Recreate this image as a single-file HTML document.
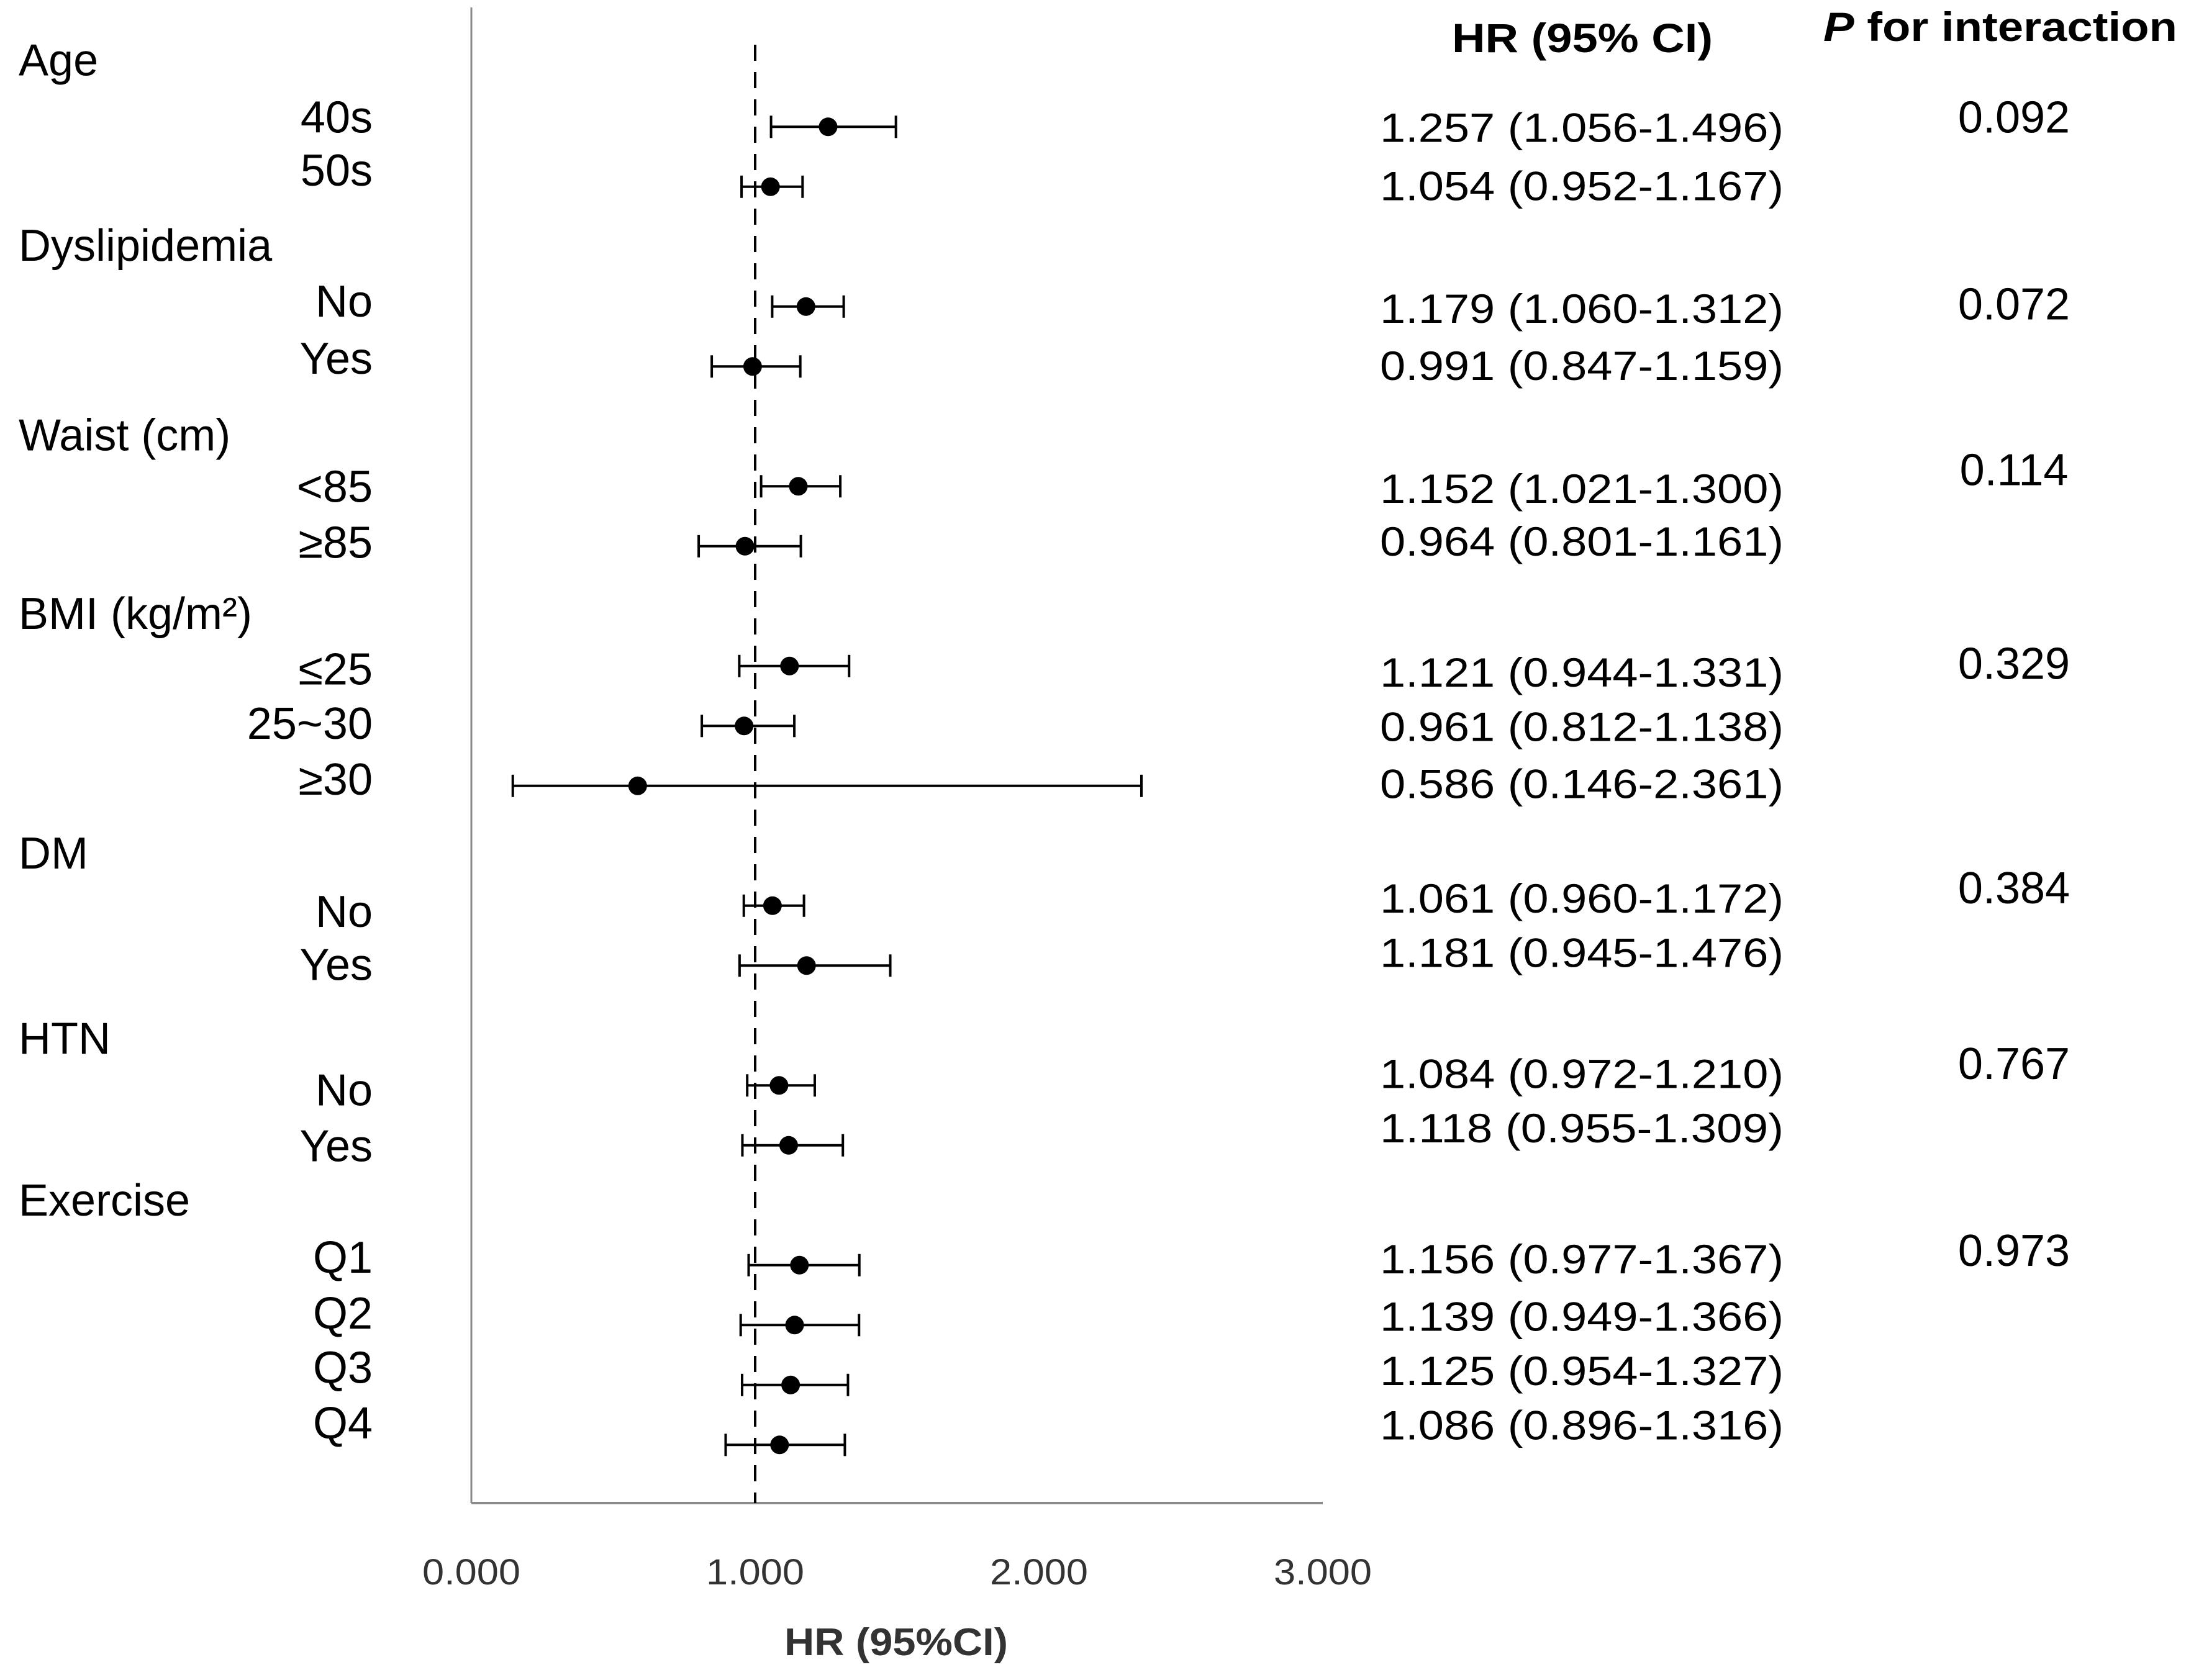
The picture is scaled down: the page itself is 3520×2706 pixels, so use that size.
<!DOCTYPE html>
<html><head><meta charset="utf-8"><style>
html,body{margin:0;padding:0;background:#fff;}
svg{display:block;font-family:"Liberation Sans",sans-serif;}
</style></head><body>
<svg id="chart" width="3520" height="2706" viewBox="0 0 3520 2706" xmlns="http://www.w3.org/2000/svg">
<g id="axes"></g>
<g id="rows"></g>
<text x="2548" y="84" font-size="66" font-weight="bold" text-anchor="middle" textLength="420" lengthAdjust="spacingAndGlyphs">HR (95% CI)</text>
<text x="2936" y="66" font-size="66" font-weight="bold" textLength="570" lengthAdjust="spacingAndGlyphs"><tspan font-style="italic">P</tspan> for interaction</text>
</svg>
<script>
const groups = ["Age","Dyslipidemia","Waist (cm)","BMI (kg/m²)","DM","HTN","Exercise"];
const groupSlots = [0,3,6,9,13,16,19];
const labels = ["40s","50s","No","Yes","<85","≥85","≤25","25~30","≥30","No","Yes","No","Yes","Q1","Q2","Q3","Q4"];
const slots = [1,2,4,5,7,8,10,11,12,14,15,17,18,20,21,22,23];
const hr = [1.257,1.054,1.179,0.991,1.152,0.964,1.121,0.961,0.586,1.061,1.181,1.084,1.118,1.156,1.139,1.125,1.086];
const lo = [1.056,0.952,1.060,0.847,1.021,0.801,0.944,0.812,0.146,0.960,0.945,0.972,0.955,0.977,0.949,0.954,0.896];
const hi = [1.496,1.167,1.312,1.159,1.300,1.161,1.331,1.138,2.361,1.172,1.476,1.210,1.309,1.367,1.366,1.327,1.316];
const pSlots = [1,4,7,10,14,17,20];
const pValues = ["0.092","0.072","0.114","0.329","0.384","0.767","0.973"];
const ticks = [0,1,2,3];
const tickLabels = ["0.000","1.000","2.000","3.000"];

// text layout (centre lines, in 1/2.245 scaled units)
const groupTextY = [43,176,312,440,612,745,861];
const labelTextY = [84,122,216,257,349,389,480,519,559,654,692,782,822,902,942,981,1021];
const hrTextY = [91,133,221,262,350,388,482,521,562,644,683,770,809,903,944,983,1022];
const pTextY = [84,218,337,476,637,763,897];

const NS="http://www.w3.org/2000/svg";
const K=2.245;
const X0=759, XS=457;
function xs(v){return X0+v*XS;}
function ys(s){return 107.8+s*96.5;}
function mk(tag,attrs,parent,text){const e=document.createElementNS(NS,tag);for(const k in attrs)e.setAttribute(k,attrs[k]);if(text!==undefined)e.textContent=text;parent.appendChild(e);return e;}
const ax=document.getElementById('axes'), rows=document.getElementById('rows');
const AXY=2421;
let e;
e=mk('line',{x1:xs(0),y1:12,x2:xs(0),y2:AXY,stroke:'#8a8a8a','stroke-width':3},ax);


e=mk('line',{x1:xs(0),y1:AXY,x2:xs(3),y2:AXY,stroke:'#8a8a8a','stroke-width':4},ax);


e=mk('line',{x1:xs(1),y1:72,x2:xs(1),y2:AXY,stroke:'#000','stroke-width':4,'stroke-dasharray':'26,18'},ax);


ticks.forEach((t,i)=>{
  e=mk('text',{x:xs(t),y:2552,'font-size':58,'text-anchor':'middle',fill:'#333',textLength:158,lengthAdjust:'spacingAndGlyphs'},ax,tickLabels[i]);
  
  
});
e=mk('text',{x:1443,y:2666,'font-size':62,'font-weight':'bold','text-anchor':'middle',fill:'#333',textLength:360,lengthAdjust:'spacingAndGlyphs'},ax,'HR (95%CI)');



groups.forEach((g,i)=>{
  e=mk('text',{x:30,y:groupTextY[i]*K+25,'font-size':72},rows,g);
  
  
});
const CAP=18;
labels.forEach((l,i)=>{
  const y=ys(slots[i]);
  e=mk('text',{x:600,y:labelTextY[i]*K+25,'font-size':72,'text-anchor':'end'},rows,l);
  
  
  const g=mk('g',{},rows);
  
  
  e=mk('line',{x1:xs(lo[i]),y1:y,x2:xs(hi[i]),y2:y,stroke:'#000','stroke-width':4},g);
  
  
  e=mk('line',{x1:xs(lo[i]),y1:y-CAP,x2:xs(lo[i]),y2:y+CAP,stroke:'#000','stroke-width':4},g);
  
  
  e=mk('line',{x1:xs(hi[i]),y1:y-CAP,x2:xs(hi[i]),y2:y+CAP,stroke:'#000','stroke-width':4},g);
  
  
  e=mk('circle',{cx:xs(hr[i]),cy:y,r:15,fill:'#000'},g);
  
  
  const txt=hr[i].toFixed(3)+' ('+lo[i].toFixed(3)+'-'+hi[i].toFixed(3)+')';
  e=mk('text',{x:2222,y:hrTextY[i]*K+24,'font-size':66,textLength:650,lengthAdjust:'spacingAndGlyphs'},rows,txt);
  
  
});
pValues.forEach((p,i)=>{
  e=mk('text',{x:3243,y:pTextY[i]*K+25,'font-size':72,'text-anchor':'middle'},rows,p);
  
  
});
</script>
</body></html>
